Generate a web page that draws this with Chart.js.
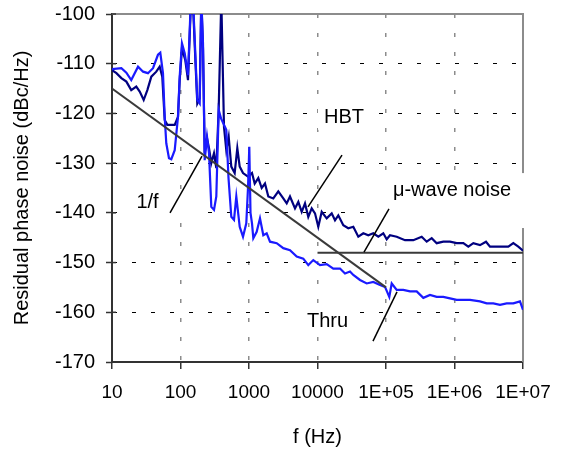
<!DOCTYPE html>
<html>
<head>
<meta charset="utf-8">
<script src="https://cdn.jsdelivr.net/npm/chart.js@4.4.0/dist/chart.umd.min.js"></script>
<style>
  html, body { margin: 0; padding: 0; background: #fff; }
  #wrap { width: 566px; height: 449px; }
</style>
</head>
<body>
<div id="wrap"><canvas id="noiseChart"></canvas></div>
<script>
// axis ticks
var xTicks = [10, 100, 1000, 10000, 1e5, 1e6, 1e7];
var xTickLabels = ["10", "100", "1000", "10000", "1E+05", "1E+06", "1E+07"];
var yTicks = [-170, -160, -150, -140, -130, -120, -110, -100];

// HBT residual phase noise (Hz, dBc/Hz)
var hbtFreq = [10, 11.6, 13.7, 16.2, 19.1, 22.6, 25.4, 29.0, 32.8, 37.5, 44.3, 49.7, 54.2, 58.8, 64.2, 73.4, 82.3, 91.9, 97.3, 105,
  117.5, 128.7, 140.9, 152.2, 164.5, 175.9, 190.7, 201.2, 213.1, 225.6, 243.8, 260.7, 281.6, 308.4, 333.2, 361.2, 394, 431.5, 466.3, 505.4,
  551.6, 618, 675, 731.6, 817.5, 967, 1106, 1211, 1367, 1532, 1712, 1913, 2263, 2677, 3168, 3551, 3967, 4694, 5245, 5880,
  6569, 7338, 8230, 9195, 10270, 11520, 13620, 16120, 18010, 20120, 23800, 28150, 33320, 39410, 46630, 55150, 65260, 77200, 91330, 102400,
  114400, 143300, 189400, 250300, 332000, 392900, 464800, 549700, 686300, 859700, 1.077e6, 1.345e6, 1.591e6, 1.882e6, 2.357e6, 2.884e6, 3.298e6, 4.131e6, 5.158e6, 6.1e6,
  7.219e6, 8.54e6, 1e7];
var hbtNoise = [-111.3, -111.9, -112.9, -113.6, -115.3, -114.6, -115.6, -117.3, -115.3, -112.6, -111.6, -110.6, -112.6, -121.3, -122.3, -122.3, -122.3, -120.7, -113.3, -106.9,
  -109.3, -113.3, -99, -98, -109, -118, -117, -97, -107, -128, -125, -127, -130, -128, -131, -119, -97, -122.7, -127.4, -124.7,
  -130.7, -132, -127, -130.7, -132, -132.7, -132, -134.1, -133, -135, -134.1, -136.7, -137.1, -135.7, -137.1, -138.1, -136.7, -139.1, -137.8, -139.8,
  -138.1, -140.8, -139.1, -140.1, -142.8, -139.8, -141.1, -140.1, -141.5, -140.5, -142.5, -143.1, -142.8, -144.8, -144.1, -144.5, -144.1, -144.8, -144.1, -145.3,
  -144.5, -144.8, -145.5, -145.5, -144.8, -145.8, -145.1, -146.1, -145.8, -145.8, -146.1, -146.1, -146.8, -146.1, -146.5, -145.8, -146.8, -146.8, -146.8, -146.8,
  -146.1, -146.8, -147.6];

// Thru residual phase noise
var thruFreq = [10, 13.7, 16.2, 19.1, 24.0, 28.4, 33.5, 39.7, 46.9, 50.7, 55.5, 58.8, 62.0, 67.9, 73.4, 82.3, 91.9, 97.3, 105, 115.2,
  128.7, 140.9, 152.2, 164.5, 175.9, 190.7, 201.2, 213.1, 225.6, 243.8, 260.7, 281.6, 308.4, 333.2, 361.2, 390.2, 466.3, 502, 551.6, 604,
  652.6, 731.6, 817.5, 913.1, 967, 1010, 1052, 1106, 1156, 1295, 1447, 1618, 1813, 2026, 2538, 3168, 3967, 4970, 6203, 7338,
  8683, 10880, 13620, 17010, 21310, 25210, 29820, 33320, 41730, 52270, 65260, 81750, 96700, 111700, 121100, 143300, 178900, 224100, 280700, 350400,
  438800, 549700, 686300, 859700, 1.077e6, 1.345e6, 1.684e6, 2.357e6, 2.952e6, 3.685e6, 4.615e6, 5.781e6, 7.219e6, 9.04e6, 1e7];
var thruNoise = [-111.1, -110.9, -111.8, -113.3, -110.6, -111.6, -111.9, -110.9, -108.2, -107.8, -111.9, -120.7, -126, -129, -129.2, -127.4, -120.7, -112.6, -105.9, -107.9,
  -112.3, -98, -97, -107.9, -117.3, -118, -97, -105.9, -129.4, -124.7, -128, -138.8, -139.4, -136.7, -119.3, -121, -123.3, -133, -140.8, -141.4,
  -136.7, -142.8, -144.8, -142.1, -135, -126.7, -140, -142.1, -145.1, -143.8, -141.1, -144.5, -144.1, -145.8, -146.1, -147.1, -147.5, -148.8, -149.2, -150.5,
  -149.5, -150.5, -150.3, -151.2, -151.2, -152.2, -151.8, -152.5, -153.5, -154.2, -153.9, -154.5, -154.9, -156.9, -154.2, -155.5, -155.5, -155.8, -155.8, -157.1,
  -156.5, -156.9, -156.9, -157.2, -157.5, -157.5, -157.5, -157.8, -158.2, -158.2, -158.5, -158.2, -158.2, -157.8, -159.5];

// asymptotes
var flickerFreq = [10, 1e5];
var flickerNoise = [-115, -155];
var microwaveFreq = [1e4, 1e7];
var microwaveNoise = [-148, -148];

// text labels: anchor, white box and leader line, all in data units
var notes = [
  { text: "1/f", at: [33, -138.0], box: [17, 228, -136.0, -140.6], lead: [[70.3, -140.0], [206, -128.6]] },
  { text: "HBT", at: [24380, -120.9], box: [10170, 58400, -118.3, -123.3], lead: [[22790, -128.4], [7265, -138.8]] },
  { text: "\u03bc-wave noise", at: [919700, -135.4], box: [69000, 1.15e7, -132.0, -143.05], lead: [[110600, -139.2], [47730, -147.9]] },
  { text: "Thru", at: [14000, -161.8], box: [3970, 35240, -158.5, -164.4], lead: [[144700, -155.9], [64600, -165.8]] }
];

function pairs(xs, ys) {
  return xs.map(function(v, i) { return { x: v, y: ys[i] }; });
}

Chart.defaults.font.family = "'Liberation Sans', Arial, sans-serif";
Chart.defaults.color = "#000";

var labelFont = "20px 'Liberation Sans', Arial, sans-serif";

var decor = {
  id: "decor",
  beforeDatasetsDraw: function(chart) {
    var ctx = chart.ctx, a = chart.chartArea, sx = chart.scales.x, sy = chart.scales.y;
    ctx.save();
    ctx.strokeStyle = "#8c8c8c";
    ctx.lineWidth = 2;
    ctx.beginPath();
    ctx.moveTo(a.left, a.top);
    ctx.lineTo(a.right, a.top);
    ctx.lineTo(a.right, a.bottom);
    ctx.stroke();
    ctx.font = labelFont;
    ctx.textAlign = "center";
    ctx.textBaseline = "middle";
    notes.forEach(function(n) {
      var x0 = sx.getPixelForValue(n.box[0]), x1 = sx.getPixelForValue(n.box[1]);
      var y0 = sy.getPixelForValue(n.box[2]), y1 = sy.getPixelForValue(n.box[3]);
      ctx.fillStyle = "#fff";
      ctx.fillRect(x0, y0, x1 - x0, y1 - y0);
      ctx.fillStyle = "#000";
      ctx.fillText(n.text, sx.getPixelForValue(n.at[0]), sy.getPixelForValue(n.at[1]));
    });
    ctx.restore();
  },
  afterDraw: function(chart) {
    var ctx = chart.ctx, a = chart.chartArea, sy = chart.scales.y;
    ctx.save();
    ctx.strokeStyle = "#333";
    ctx.lineWidth = 1.5;
    yTicks.forEach(function(v) {
      var py = sy.getPixelForValue(v);
      ctx.beginPath();
      ctx.moveTo(a.left, py);
      ctx.lineTo(a.left + 4, py);
      ctx.stroke();
    });
    ctx.restore();
  }
};

// earlier datasets are drawn on top
var datasets = [];
notes.forEach(function(n) {
  datasets.push({
    data: n.lead.map(function(p) { return { x: p[0], y: p[1] }; }),
    borderColor: "#000", borderWidth: 1.5, pointRadius: 0, clip: 0
  });
});
datasets.push({ data: pairs(flickerFreq, flickerNoise), borderColor: "#3a3a3a", borderWidth: 2, pointRadius: 0, clip: 0 });
datasets.push({ data: pairs(microwaveFreq, microwaveNoise), borderColor: "#3a3a3a", borderWidth: 2, pointRadius: 0, clip: 0 });
datasets.push({ label: "Thru", data: pairs(thruFreq, thruNoise), borderColor: "#1a1aff", borderWidth: 2.2, pointRadius: 0, clip: 0 });
datasets.push({ label: "HBT", data: pairs(hbtFreq, hbtNoise), borderColor: "#000080", borderWidth: 2.2, pointRadius: 0, clip: 0 });

var ctx = document.getElementById("noiseChart").getContext("2d");
new Chart(ctx, {
  type: "line",
  data: { datasets: datasets },
  plugins: [decor],
  options: {
    responsive: true,
    maintainAspectRatio: false,
    animation: false,
    layout: { padding: { top: 14, right: 43, bottom: 0, left: 0 } },
    plugins: { legend: { display: false }, tooltip: { enabled: false } },
    scales: {
      x: {
        type: "logarithmic",
        min: 10,
        max: 1e7,
        afterBuildTicks: function(scale) { scale.ticks = xTicks.map(function(v) { return { value: v }; }); },
        afterFit: function(scale) { scale.height = 87; scale.paddingLeft = 0; scale.paddingRight = 0; },
        ticks: {
          autoSkip: false, maxRotation: 0, minRotation: 0, padding: 12,
          font: { size: 19 },
          callback: function(value) { var i = xTicks.indexOf(value); return i >= 0 ? xTickLabels[i] : ""; }
        },
        grid: { color: "#8c8c8c", lineWidth: 1.5, tickColor: "#333", tickWidth: 1.5, tickLength: 7 },
        border: { color: "#333", width: 2, dash: [4, 15] },
        title: { display: true, text: "f (Hz)", font: { size: 20 }, padding: { top: 0, bottom: 0 } }
      },
      y: {
        min: -170,
        max: -100,
        afterBuildTicks: function(scale) { scale.ticks = yTicks.map(function(v) { return { value: v }; }); },
        afterFit: function(scale) { scale.width = 112; scale.paddingTop = 0; scale.paddingBottom = 0; },
        ticks: { padding: 11, font: { size: 20 } },
        grid: { color: "#000", lineWidth: 1, tickColor: "#333", tickWidth: 1.5, tickLength: 6 },
        border: { color: "#333", width: 2, dash: [4, 15] },
        title: { display: true, text: "Residual phase noise (dBc/Hz)", font: { size: 20 }, padding: { top: 10, bottom: 0 } }
      }
    }
  }
});
</script>
</body>
</html>
